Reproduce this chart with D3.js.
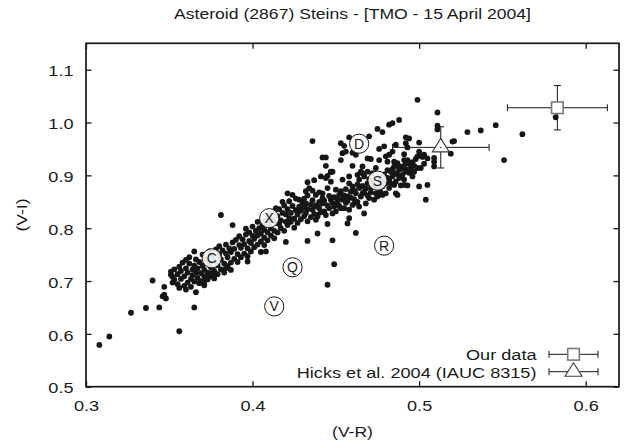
<!DOCTYPE html>
<html>
<head>
<meta charset="utf-8">
<script src="https://cdn.jsdelivr.net/npm/d3@7"></script>
<style>
  html, body { margin: 0; padding: 0; background: #fff; }
  svg { display: block; }
  text { font-family: "Liberation Sans", Arial, Helvetica, sans-serif; fill: #1a1a1a; }
</style>
</head>
<body>
<svg id="chart" width="626" height="443"></svg>
<script>
// Steins colour indices measured at TMO: each entry is [V-R, V-I]
const steinsPoints = [
  // faint blue tail and stragglers
  [0.308,0.579],[0.314,0.595],[0.327,0.640],[0.336,0.649],[0.344,0.650],[0.346,0.671],[0.348,0.667],[0.347,0.674],
  [0.340,0.701],[0.347,0.689],[0.356,0.605],[0.365,0.650],[0.366,0.679],[0.356,0.687],[0.360,0.684],[0.352,0.697],
  [0.363,0.689],[0.368,0.696],[0.371,0.692],[0.371,0.699],[0.352,0.708],[0.351,0.718],[0.360,0.740],[0.365,0.756],
  [0.375,0.715],[0.374,0.708],[0.377,0.705],[0.384,0.724],[0.387,0.721],[0.397,0.737],[0.405,0.755],[0.408,0.756],
  [0.381,0.825],[0.388,0.806],[0.420,0.774],[0.433,0.776],[0.439,0.790],[0.448,0.777],[0.449,0.732],[0.445,0.693],
  [0.462,0.791],[0.457,0.809],[0.458,0.819],[0.445,0.808],[0.438,0.816],[0.439,0.825],[0.448,0.828],
  // main sequence, around C
  [0.351,0.712],[0.353,0.703],[0.353,0.722],[0.355,0.694],[0.355,0.713],[0.356,0.727],[0.357,0.704],[0.357,0.719],
  [0.358,0.735],[0.359,0.691],[0.359,0.709],[0.360,0.724],[0.361,0.697],[0.361,0.716],[0.362,0.733],[0.362,0.745],
  [0.363,0.704],[0.364,0.722],[0.364,0.711],[0.365,0.699],[0.365,0.729],[0.366,0.716],[0.366,0.741],[0.367,0.706],
  [0.367,0.724],[0.368,0.736],[0.369,0.700],[0.369,0.715],[0.370,0.729],[0.370,0.750],[0.371,0.709],[0.371,0.721],
  [0.372,0.741],[0.373,0.703],[0.373,0.716],[0.374,0.733],[0.374,0.756],[0.375,0.726],[0.376,0.712],[0.376,0.748],
  [0.377,0.719],[0.377,0.737],[0.378,0.760],[0.379,0.713],[0.379,0.730],[0.380,0.751],[0.380,0.766],[0.381,0.722],
  [0.381,0.741],[0.382,0.758],[0.383,0.716],[0.383,0.733],[0.384,0.752],[0.384,0.769],[0.385,0.745],[0.385,0.728],
  [0.386,0.762],[0.387,0.735],[0.387,0.755],[0.388,0.773],
  // main sequence, C to X
  [0.389,0.742],[0.389,0.761],[0.390,0.778],[0.391,0.736],[0.391,0.751],[0.392,0.768],[0.392,0.785],[0.393,0.745],
  [0.393,0.763],[0.394,0.779],[0.395,0.752],[0.395,0.770],[0.396,0.788],[0.396,0.799],[0.397,0.747],[0.397,0.762],
  [0.398,0.776],[0.398,0.792],[0.399,0.756],[0.399,0.772],[0.400,0.786],[0.400,0.803],[0.401,0.764],[0.401,0.780],
  [0.402,0.795],[0.403,0.769],[0.403,0.786],[0.403,0.812],[0.404,0.800],[0.405,0.775],[0.405,0.790],[0.406,0.806],
  [0.407,0.768],[0.407,0.782],[0.407,0.797],[0.408,0.815],[0.409,0.777],[0.409,0.792],[0.410,0.808],[0.410,0.826],
  [0.411,0.786],[0.411,0.800],[0.412,0.816],[0.413,0.781],[0.413,0.795],[0.413,0.832],[0.414,0.810],[0.414,0.838],
  // main sequence, X to S
  [0.415,0.792],[0.415,0.823],[0.416,0.808],[0.416,0.836],[0.417,0.800],[0.417,0.815],[0.418,0.829],[0.418,0.850],
  [0.419,0.795],[0.419,0.843],[0.420,0.812],[0.420,0.826],[0.421,0.806],[0.421,0.836],[0.421,0.866],[0.422,0.819],
  [0.422,0.851],[0.423,0.812],[0.423,0.829],[0.424,0.842],[0.424,0.863],[0.425,0.801],[0.425,0.818],[0.426,0.834],
  [0.426,0.856],[0.427,0.810],[0.427,0.826],[0.428,0.841],[0.428,0.854],[0.429,0.817],[0.429,0.833],[0.430,0.848],
  [0.431,0.823],[0.431,0.839],[0.431,0.856],[0.432,0.829],[0.432,0.870],[0.432,0.847],[0.433,0.813],[0.433,0.836],
  [0.433,0.862],[0.433,0.887],[0.434,0.876],[0.435,0.821],[0.435,0.845],[0.436,0.835],[0.436,0.853],[0.436,0.871],
  [0.437,0.827],[0.437,0.891],[0.438,0.843],[0.438,0.863],[0.439,0.841],[0.439,0.822],[0.440,0.850],[0.440,0.868],
  [0.441,0.830],[0.441,0.898],[0.442,0.857],[0.442,0.847],[0.443,0.832],[0.444,0.895],[0.444,0.825],[0.445,0.876],
  [0.445,0.899],[0.446,0.838],[0.447,0.854],[0.447,0.907],[0.447,0.888],[0.448,0.907],
  [0.440,0.838],[0.442,0.866],[0.443,0.852],[0.445,0.843],[0.446,0.861],[0.448,0.848],[0.449,0.859],[0.451,0.855],
  [0.452,0.842],[0.453,0.870],[0.455,0.862],[0.456,0.874],[0.457,0.852],[0.459,0.858],[0.461,0.871],[0.462,0.848],
  // main sequence, around S
  [0.449,0.841],[0.450,0.873],[0.450,0.832],[0.451,0.847],[0.452,0.863],[0.453,0.838],[0.454,0.854],[0.454,0.892],
  [0.455,0.838],[0.456,0.848],[0.457,0.860],[0.458,0.835],[0.458,0.885],[0.459,0.869],[0.460,0.844],[0.460,0.879],
  [0.461,0.855],[0.462,0.866],[0.463,0.901],[0.463,0.850],[0.464,0.876],[0.464,0.841],[0.465,0.860],[0.465,0.907],
  [0.466,0.904],[0.467,0.869],[0.467,0.828],[0.467,0.898],[0.468,0.847],[0.469,0.885],[0.470,0.857],[0.470,0.893],
  [0.471,0.876],[0.472,0.904],[0.473,0.854],[0.473,0.882],[0.474,0.914],[0.474,0.866],[0.475,0.860],[0.476,0.873],
  [0.476,0.896],[0.477,0.886],[0.478,0.879],[0.478,0.863],[0.479,0.902],[0.480,0.885],[0.480,0.866],[0.481,0.910],
  [0.482,0.892],[0.482,0.876],[0.483,0.907],[0.484,0.898],[0.485,0.882],[0.485,0.917],[0.486,0.904],[0.486,0.888],
  [0.487,0.863],[0.487,0.923],[0.488,0.911],[0.488,0.895],[0.489,0.881],[0.490,0.917],[0.490,0.901],[0.491,0.892],
  [0.491,0.929],[0.492,0.922],[0.493,0.881],[0.493,0.929],[0.494,0.923],[0.495,0.914],[0.496,0.898],[0.497,0.907],
  [0.498,0.931],[0.499,0.914],[0.500,0.879],[0.502,0.935],[0.503,0.922],[0.504,0.854],[0.505,0.882],[0.505,0.932],
  [0.509,0.933],[0.509,0.926],[0.509,0.917],[0.519,0.941],[0.521,0.965],[0.551,0.929],
  [0.463,0.883],[0.466,0.866],[0.466,0.880],[0.468,0.875],[0.469,0.862],[0.471,0.868],[0.472,0.889],[0.475,0.878],
  [0.477,0.868],[0.479,0.889],[0.481,0.895],[0.483,0.885],[0.484,0.912],[0.487,0.902],[0.489,0.912],[0.492,0.912],
  [0.494,0.905],[0.496,0.925],[0.497,0.918],
  // redder branch, around D
  [0.436,0.965],[0.442,0.934],[0.444,0.934],[0.444,0.918],[0.447,0.906],[0.453,0.961],[0.455,0.956],[0.454,0.942],
  [0.456,0.945],[0.453,0.929],[0.458,0.972],[0.460,0.943],[0.462,0.939],[0.460,0.918],[0.464,0.892],[0.458,0.898],
  [0.466,0.917],[0.469,0.932],[0.469,0.907],[0.470,0.974],[0.471,0.931],[0.475,0.988],[0.478,0.982],[0.476,0.950],
  [0.476,0.929],[0.479,0.955],[0.480,0.936],[0.481,0.926],[0.482,0.939],[0.482,0.996],[0.484,0.999],[0.484,0.945],
  [0.485,0.926],[0.486,0.958],[0.486,0.866],[0.488,1.005],[0.488,0.917],[0.491,0.882],[0.492,0.961],[0.492,0.972],
  [0.493,0.953],[0.494,0.970],[0.492,0.907],[0.491,0.940],[0.496,0.904],[0.499,0.936],[0.499,1.043],[0.500,0.962],
  [0.500,0.945],[0.501,0.914],[0.501,0.937],[0.503,0.939],[0.511,1.019],[0.511,0.994],[0.511,0.987],[0.520,0.964],
  [0.529,0.982],[0.537,0.985],[0.546,0.995],[0.562,0.978],[0.582,1.010]
];

// Averaged colours with their uncertainties: [V-R, V-I] and [±V-R, ±V-I]
const ourDataPoint = [0.583, 1.028];
const ourDataError = [0.030, 0.042];
const hicksPoint = [0.513, 0.953];
const hicksError = [0.029, 0.039];

// Mean colours of the taxonomic classes
const taxonClasses = ["D", "S", "X", "C", "Q", "R", "V"];
const taxonVR = [0.464, 0.475, 0.410, 0.3755, 0.424, 0.479, 0.413];
const taxonVI = [0.960, 0.890, 0.819, 0.743, 0.726, 0.767, 0.652];

const xTicks = [0.3, 0.4, 0.5, 0.6];
const yTicks = [0.5, 0.6, 0.7, 0.8, 0.9, 1.0, 1.1];
const legendLabels = ["Our data", "Hicks et al. 2004 (IAUC 8315)"];
const titleText = "Asteroid (2867) Steins - [TMO - 15 April 2004]";

const W = 626, H = 443;
const margin = { top: 43.3, right: 7, bottom: 56.3, left: 86 };
const stretch = 1.17;           // the lettering is set slightly wide
const ink = "#161616";

const svg = d3.select("#chart");
const x = d3.scaleLinear().domain([0.3, 0.62]).range([margin.left, W - margin.right]);
const y = d3.scaleLinear().domain([0.5, 1.15]).range([H - margin.bottom, margin.top]);

function label(parent, px, py, str, size, anchor, rotate, sx) {
  const g = parent.append("g")
    .attr("transform", `translate(${px},${py}) rotate(${rotate || 0}) scale(${sx || stretch},1)`);
  g.append("text")
    .attr("text-anchor", anchor || "middle")
    .style("font-size", size + "px")
    .text(str);
  return g;
}

// Title, set to span the width 174..531
{
  const g = label(svg, (x.range()[0] + x.range()[1]) / 2 + 0.5, 19, titleText, 14.2, "middle", 0, 1);
  const w = g.select("text").node().getComputedTextLength();
  g.attr("transform", `translate(${(x.range()[0] + x.range()[1]) / 2},19) scale(${357 / w},1)`);
}

// Axes with inward ticks on all four sides
const tick = 5.5;
const fmt = d3.format(".1f");
const xAxis = svg.append("g").attr("transform", `translate(0,${y(0.5)})`)
  .call(d3.axisBottom(x).tickValues(xTicks).tickSize(-tick).tickFormat(fmt));
const yAxis = svg.append("g").attr("transform", `translate(${x(0.3)},0)`)
  .call(d3.axisLeft(y).tickValues(yTicks).tickSize(-tick).tickFormat(fmt));
svg.append("g").attr("transform", `translate(0,${y(1.15)})`)
  .call(d3.axisTop(x).tickValues(xTicks).tickSize(-tick).tickFormat(""));
svg.append("g").attr("transform", `translate(${x(0.62)},0)`)
  .call(d3.axisRight(y).tickValues(yTicks).tickSize(-tick).tickFormat(""));

svg.selectAll(".domain").remove();
svg.selectAll(".tick line").attr("stroke", ink).attr("stroke-width", 1.3);
xAxis.selectAll("text")
  .attr("y", null).attr("dy", null)
  .attr("transform", `translate(0,24.3) scale(${stretch},1)`)
  .style("font-size", "15.5px").attr("fill", ink);
yAxis.selectAll("text")
  .attr("x", null).attr("dy", null)
  .attr("transform", `translate(-12.5,6.2) scale(${stretch},1)`)
  .style("font-size", "15.5px").attr("fill", ink);
svg.selectAll(".tick text").attr("font-family", null).attr("font-size", null);

// Axis titles
label(svg, (x.range()[0] + x.range()[1]) / 2, 437, "(V-R)", 15);
label(svg, 27, (y.range()[0] + y.range()[1]) / 2, "(V-I)", 15, "middle", -90);

// Scatter of individual measurements
const plot = svg.append("g");
plot.append("clipPath").attr("id", "clip")
  .append("rect").attr("x", x(0.3)).attr("y", y(1.15))
  .attr("width", x(0.62) - x(0.3)).attr("height", y(0.5) - y(1.15));
plot.append("g").attr("clip-path", "url(#clip)")
  .selectAll("circle").data(steinsPoints).join("circle")
  .attr("cx", d => x(d[0])).attr("cy", d => y(d[1]))
  .attr("r", 2.9).attr("fill", ink);

// Taxonomic class markers
const taxa = plot.append("g").selectAll("g")
  .data(taxonClasses.map((c, i) => ({ c, vr: taxonVR[i], vi: taxonVI[i] })))
  .join("g")
  .attr("transform", d => `translate(${x(d.vr)},${y(d.vi)})`);
taxa.append("circle").attr("r", 9.6)
  .attr("fill", "#fff").attr("fill-opacity", 0.88)
  .attr("stroke", ink).attr("stroke-width", 1);
taxa.append("text").attr("text-anchor", "middle").attr("dy", 5)
  .style("font-size", "14px").text(d => d.c);

// Error bar helper: horizontal and vertical bars with end caps
function errorBars(g, cx, cy, dxPx0, dxPx1, dyPx0, dyPx1, cap) {
  const lines = [
    [dxPx0, cy, dxPx1, cy],
    [dxPx0, cy - cap, dxPx0, cy + cap],
    [dxPx1, cy - cap, dxPx1, cy + cap]
  ];
  if (dyPx0 !== null) {
    lines.push([cx, dyPx0, cx, dyPx1], [cx - cap, dyPx0, cx + cap, dyPx0], [cx - cap, dyPx1, cx + cap, dyPx1]);
  }
  g.selectAll(null).data(lines).join("line")
    .attr("x1", d => d[0]).attr("y1", d => d[1]).attr("x2", d => d[2]).attr("y2", d => d[3])
    .attr("stroke", ink).attr("stroke-width", 1);
}

const sq = 11.6;
function squareMark(g, cx, cy) {
  g.append("rect").attr("x", cx - sq / 2).attr("y", cy - sq / 2)
    .attr("width", sq).attr("height", sq)
    .attr("fill", "#fff").attr("stroke", "#7a7a7a").attr("stroke-width", 1.6);
}
const triW = 17, triH = 13.5;
function triangleMark(g, cx, cy) {
  const top = cy - triH * 2 / 3, base = cy + triH / 3;
  g.append("path")
    .attr("d", `M${cx},${top}L${cx + triW / 2},${base}L${cx - triW / 2},${base}Z`)
    .attr("fill", "#fff").attr("stroke", "#3a3a3a").attr("stroke-width", 1.1);
}

// Hicks et al. value
const hg = plot.append("g");
errorBars(hg, x(hicksPoint[0]), y(hicksPoint[1]),
  x(hicksPoint[0] - hicksError[0]), x(hicksPoint[0] + hicksError[0]),
  y(hicksPoint[1] + hicksError[1]), y(hicksPoint[1] - hicksError[1]), 3.5);
triangleMark(hg, x(hicksPoint[0]), y(hicksPoint[1]));
hg.append("circle").attr("cx", x(hicksPoint[0])).attr("cy", y(hicksPoint[1])).attr("r", 0.7).attr("fill", ink);

// Our mean value
const og = plot.append("g");
errorBars(og, x(ourDataPoint[0]), y(ourDataPoint[1]),
  x(ourDataPoint[0] - ourDataError[0]), x(ourDataPoint[0] + ourDataError[0]),
  y(ourDataPoint[1] + ourDataError[1]), y(ourDataPoint[1] - ourDataError[1]), 3.5);
squareMark(og, x(ourDataPoint[0]), y(ourDataPoint[1]));

// Legend
const legend = svg.append("g");
const lx0 = 549, lx1 = 598, lxc = (lx0 + lx1) / 2;
const rowY = [354.3, 371.7];
rowY.forEach((ry, i) => {
  label(legend, 536.5, ry + 5.8, legendLabels[i], 15.5, "end");
  errorBars(legend, lxc, ry, lx0, lx1, null, null, 3.5);
  if (i === 0) squareMark(legend, lxc, ry); else triangleMark(legend, lxc, ry);
});

// Plot frame
svg.append("rect")
  .attr("x", x(0.3)).attr("y", y(1.15))
  .attr("width", x(0.62) - x(0.3)).attr("height", y(0.5) - y(1.15))
  .attr("fill", "none").attr("stroke", ink).attr("stroke-width", 1.7);
</script>
</body>
</html>
